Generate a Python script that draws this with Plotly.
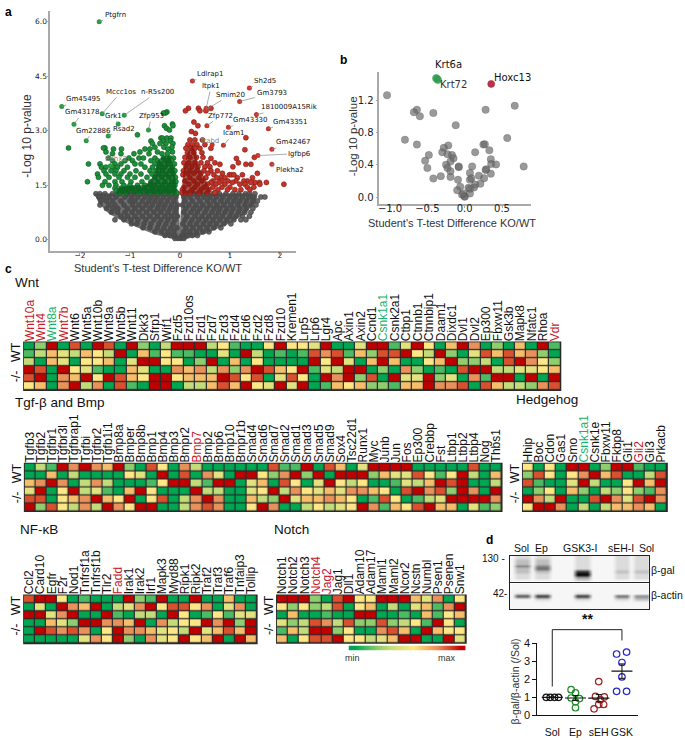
import plotly.graph_objects as go

W, H = 685, 740
FA = "Liberation Sans"
FD = "DejaVu Sans"

# ---------- panel a data ----------
genes_a = ["Ptgfrn","Ldlrap1","Sh2d5","Itpk1","Smim20","Gm3793","n-R5s200","Mccc1os","Gm45495","1810009A15Rik",
           "Gm43178","Grk1","Zfp953","Zfp772","Gm43330","Gm43351","Rsad2","Gm22886","Icam1","Trabd","Gm42467",
           "Igfbp6","Ephx2","Plekha2"]
genes_a_x = [-1.615,0.25,1.39,0.525,0.525,1.195,-1.115,-1.555,-2.365,1.53,-2.12,-1.235,-0.63,0.54,0.97,1.77,-1.435,
             -1.875,0.87,0.645,1.84,1.56,-1.39,1.84]
genes_a_y = [6.0,4.37,4.18,3.62,3.58,3.81,3.43,3.47,3.67,3.45,3.18,3.19,3.02,3.14,3.10,3.06,2.86,2.73,2.60,2.62,2.49,
             2.32,2.04,2.08]
grey_rows = [
 (1.27,[-1.68,-1.6,-1.5,-1.35,-1.2,-1.05,-.92,-.78,-.66,-.52,-.4,-.27,-.15,-.06,.06,.15,.28,.41,.53,.66,.79,.92,1.06,1.18,1.31,1.39,1.5]),
 (1.18,[-1.62,-1.54,-1.42,-1.28,-1.1,-.97,-.84,-.7,-.58,-.46,-.33,-.2,-.08,.08,.2,.35,.48,.6,.73,.86,1.0,1.12,1.25,1.38,1.48,1.62,1.7]),
 (1.07,[-1.58,-1.47,-1.35,-1.18,-1.0,-.9,-.75,-.62,-.5,-.38,-.25,-.12,.1,.25,.4,.55,.68,.82,.95,1.08,1.2,1.33,1.46,1.55]),
 (.96,[-1.6,-1.42,-1.3,-1.12,-.95,-.82,-.68,-.55,-.42,-.3,-.17,-.05,.05,.18,.32,.46,.6,.74,.88,1.02,1.16,1.3,1.42,1.52]),
 (.86,[-1.47,-1.34,-1.24,-1.05,-.9,-.75,-.6,-.45,-.33,-.2,-.08,.12,.27,.4,.54,.68,.8,.94,1.07,1.2,1.33,1.46]),
 (.76,[-1.37,-1.25,-1.1,-.96,-.82,-.67,-.52,-.38,-.24,-.1,.08,.22,.35,.5,.64,.77,.9,1.03,1.17,1.3,1.42]),
 (.65,[-1.18,-1.05,-.9,-.75,-.6,-.45,-.3,-.17,-.05,.14,.3,.44,.58,.72,.85,1.0,1.12,1.25,1.39]),
 (.55,[-1.3,-1.12,-.98,-.84,-.68,-.52,-.38,-.24,-.1,.1,.24,.38,.52,.66,.8,.94,1.08,1.22,1.32]),
 (.44,[-.97,-.86,-.72,-.58,-.42,-.28,-.14,.06,.2,.33,.47,.6,.73,.88,1.02]),
 (.33,[-.74,-.6,-.45,-.32,-.18,-.06,.12,.26,.4,.54,.68,.82]),
 (.22,[-.5,-.37,-.24,-.12,.08,.2,.33,.46,.58]),
 (.12,[-.3,-.2,-.1,.04,.14,.25,.35]),
 (.04,[-.1,-.04,.02,.08]),
]
grey_env_x = [-1.72,-1.62,-1.42,-1.2,-1.0,-.5,-.1,0,.1,.5,1.0,1.3,1.48,1.55,1.42,.04,.02,0,-.02,-.04,-1.72]
grey_env_y = [1.28,1.0,.72,.55,.42,.15,.01,-.02,.01,.16,.46,.72,1.0,1.2,1.28,1.28,.8,.35,.8,1.28,1.28]
green_rows = [
 (3.52,[-.26]),(3.49,[-.29,-.33]),(3.19,[-.15]),(3.14,[-.14,-.31]),(3.07,[-.27]),(3.02,[-.21]),
 (2.89,[-.85]),(2.8,[-.38,-.35,-.26,-.18]),(2.72,[-.58,-.33,-.19]),(2.65,[-.55,-.4,-.28,-.14]),
 (2.55,[-.5,-.32,-.16]),(2.5,[-1.17,-1.33,-.7,-.6,-.24]),(2.53,[-2.23,-1.5,-1.53]),(2.42,[-1.48,-.8,-.45,-.15]),
 (2.37,[-1.18,-1.35,-.92,-.62,-.36,-.25]),(2.25,[-1.43,-.82,-1.02,-.73,-.5,-.33,-.2,-.13]),(2.18,[-1.35,-1.1,-.95,-.58,-.45,-.28,-.17]),
 (2.09,[-1.83,-1.6,-1.3,-1.18,-.9,-.78,-.5,-.38,-.24,-.11]),(2.0,[-1.57,-1.48,-1.35,-1.25,-1.05,-.7,-.55,-.42,-.3,-.15]),
 (1.9,[-1.52,-1.38,-1.28,-1.12,-.88,-.6,-.48,-.35,-.2,-.1]),(1.81,[-1.65,-1.48,-1.3,-1.18,-1.0,-.78,-.56,-.42,-.28,-.13]),
 (1.72,[-1.63,-1.42,-1.22,-1.05,-.9,-.66,-.5,-.36,-.22,-.09]),(1.6,[-1.85,-1.5,-1.3,-1.16,-.98,-.76,-.58,-.44,-.3,-.16,-.08]),
 (1.5,[-1.55,-1.42,-1.28,-1.12,-1.0,-.85,-.7,-.6,-.5,-.36,-.22,-.1]),(1.42,[-1.3,-1.18,-1.06,-.95,-.82,-.7,-.56,-.42,-.28,-.14]),
 (1.35,[-1.27,-1.15,-1.02,-.9,-.78,-.66,-.52,-.38,-.24,-.1]),(1.3,[-1.2,-1.08,-.8,-.6,-.45,-.3,-.16,-.07]),
]
green_env_x = [-1.3,-1.22,-.95,-.68,-.56,-.5,-.44,-.3,-.2,-.12,-.08,-.06,-1.3]
green_env_y = [1.27,1.45,1.5,1.5,1.7,1.85,2.2,2.32,2.3,2.0,1.6,1.27,1.27]
red_rows = [
 (3.62,[.17,.37,.62]),(3.55,[.11,.4,.52]),(3.24,[.28]),(3.14,[.36]),(2.98,[.23]),(2.93,[.31]),(2.81,[1.32]),(2.75,[.2,.3,.45]),
 (2.62,[.16,.25,.34,.5]),(2.52,[.12,.22,.3,.4,.62]),(2.48,[1.3]),(2.4,[.15,.28,.44]),(2.27,[1.49,.1,.2,.33,.46]),
 (2.24,[1.13,.62]),(2.12,[1.17,.08,.18,.3,.42,.55,.7]),(2.08,[1.32,1.42,.8]),(2.01,[1.06,.12,.24,.36,.5,.6]),(1.9,[.75,.07,.2,.34,.48,.62]),
 (1.83,[1.55,.85,.16,.28,.42,.56]),(1.79,[.99,1.03,1.08,.68,.06,1.25]),(1.71,[.82,1.45,.74,.9,1.15,.2,.38,.52]),
 (1.62,[1.35,1.28,1.12,.96,.84,.66,.1,.28,.44]),(1.58,[1.73,1.59,1.5,1.42,.62,.78,1.05]),(1.53,[2.08,1.6,1.3,1.2,.9,.72,.55,.18,.35]),
 (1.45,[1.48,1.35,1.0,.84,.66,.48,.3,.08]),(1.38,[1.4,1.22,1.1,.95,.76,.58,.42,.24,.05]),(1.3,[.7,.55,.38,.2,.1,.04]),
]
red_env_x = [.04,.05,.08,.15,.25,.32,.38,.5,.6,.6,.04]
red_env_y = [1.27,1.6,2.0,2.4,2.6,2.4,2.0,1.7,1.4,1.27,1.27]

# ---------- panel b data ----------
b_x = [-1.04,-.64,-.68,-.60,-.42,-.12,-.80,-.64,.28,.67,.57,.79,-.22,-.28,-.48,-.30,-.23,-.17,-.15,-.19,-.53,-.50,-.25,-.23,
       -.19,-.19,-.32,-.42,-.08,-.08,-.09,-.06,-.10,-.035,0,0,-.02,.07,.05,.07,.07,.10,.14,.25,.27,.33,.35,.355,.42,.29,.28,
       .35,.26,.19,.21,.14,.125,.07,.09]
b_y = [1.26,1.08,1.05,1.0,1.04,.89,.71,.65,1.08,1.13,.73,.38,.64,.61,.52,.555,.53,.52,.48,.44,.45,.36,.40,.36,.32,.25,.26,.23,
       .38,.37,.215,.13,.085,.03,.01,.005,.045,.045,.115,.215,.30,.38,.555,.65,.655,.58,.47,.41,.405,.345,.335,.29,.235,.265,
       .165,.155,.12,.105,.235]
b_green_x, b_green_y = [-.38,-.36], [1.47,1.45]
b_red_x, b_red_y = [.355], [1.40]

# ---------- panel c data ----------
wnt_genes = ["Wnt10a","Wnt4","Wnt8a","Wnt7b","Wnt6","Wnt5a","Wnt10b","Wnt9a","Wnt5b","Wnt11","Dkk3","Sfrp1","Wif1","Fzd5","Fzd10os",
 "Fzd1","Fzd7","Fzd3","Fzd4","Fzd6","Fzd2","Fzd8","Fzd10","Kremen1","Lrp5","Lrp6","Lgr4","Apc","Axin1","Axin2","Ccnd1","Csnk1a1",
 "Csnk2a1","Ctbp1","Ctnnb1","Ctnnbip1","Daam1","Dixdc1","Dvl1","Dvl2","Ep300","Fbxw11","Gsk3b","Mapk8","Nfatc1","Rhoa","Vdr"]
wnt_vals = ["0290809809203" "999351005955490" "0499149506970206091",
            "1364365390615" "110040930101878" "1628895392048686720",
            "3064055604995" "502906050000959" "4069600569223089752",
            "9809541006400" "767372798659143" "9902072010899334456",
            "8907695986599" "566698580485097" "9280944924071990909",
            "5607937081099" "033686954949016" "5622166977808633278"]
tgf_genes = ["Tgfb3","Tgfb2","Tgfbr1","Tgfbr3l","Tgfbrap1","Tgfbi","Tgfbr2","Tgfb1i1","Bmp8a","Bmper","Bmp8b","Bmp1","Bmp4","Bmp3",
 "Bmpr2","Bmp7","Bmp2","Bmp6","Bmp10","Bmpr1b","Smad4","Smad6","Smad7","Smad2","Smad1","Smad3","Smad5","Smad9","Sox4","Tsc22d1",
 "Runx1","Myc","Junb","Jun","Fos","Ep300","Crebbp","Fst","Ltbp1","Ltbp2","Ltbp4","Nog","Thbs1"]
tgf_vals = ["03197976920850730000008119086" "04999900000800",
            "00603000054090807409952792909" "99264485159306",
            "67970373000159931990460850495" "35001436989003",
            "49059341069500093300459375464" "77650897829709",
            "88056796590580379700632946676" "50185013499997",
            "92853739759900378700597003534" "59716589660412"]
hh_genes = ["Hhip","Boc","Cdon","Gas1","Smo","Csnk1a1","Csnk1e","Fbxw11","Fkbp8","Gli1","Gli2","Gli3","Prkacb"]
hh_vals = ["5050990299100","2850579680038","8100493005969","0250620325217","9739008974897","5997030366760"]
nf_genes = ["Ccl2","Card10","Egfr","F2r","Nod1","Tnfrsf1a","Tnfrsf1b","Tlr2","Fadd","Irak1","Irak2","Irf1","Mapk3","Myd88","Ripk1",
 "Ripk2","Traf2","Traf3","Traf6","Tnfaip3","Tollip"]
nf_vals = ["899501000921900900600","040976903479588570470","994790091033095015144",
           "006429977690735597929","098787059776453946869","000004759207459569096"]
notch_genes = ["Notch1","Notch2","Notch3","Notch4","Jag2","Jag1","Dll1","Adam10","Adam17","Maml1","Maml2","Ncor2","Ncstn","Numbl",
 "Psen1","Psenen","Snw1"]
notch_vals = ["99920895599964705","52523805603046179","06001009900106156","42387382282351950","16399250078609655","60588955346990094"]
red_genes = ["Wnt10a","Wnt4","Wnt7b","Vdr","Bmp7","Gli2","Fadd","Notch4","Jag2"]
green_genes = ["Wnt8a","Csnk1a1"]
cbar_vals = [0,1,2,3,4,5,6,7,8,9]

# ---------- panel d data ----------
blot_top = ["0111011100000111000001110111","0222022200000111000001110111","0222022200000111000001110111",
            "0444044400000111000001110111","0222055500000111000001110111","0222022200000777000002220222",
            "0111011100000999000001110111","0111011100000333000001110111","0000000000000111000000000000"]
blot_bot = ["0000000000000000000000000000","0000000000000000000000000000","0000000000000000000000000000",
            "0111011100000111000000000000","0666077700000777000005550444","0000011100000111000001110222",
            "0000000000000000000000000000","0000000000000000000000000000","0000000000000000000000000000"]
d_cats = ["Sol","Ep","sEH","GSK"]
d_sol_x = [-.26,-.09,.1,.27]; d_sol_y = [1,1,1,1]
d_ep_x = [-.19,0,-.19,.17,0,0]; d_ep_y = [1.42,1.24,.96,.93,.75,.42]
d_seh_x = [0,-.14,.24,.07,.21,0,-.2]; d_seh_y = [1.87,1.05,1.02,.87,.6,.6,.36]
d_gsk_x = [-.23,.2,0,0,-.23,.2]; d_gsk_y = [3.4,3.51,2.93,2.13,1.33,1.33]
d_mean_x = [0,1,2,3]; d_mean = [1,.96,.95,2.45]; d_sem = [.02,.14,.2,.4]
d_bracket_x = [0,0,3,3]; d_bracket_y = [1.6,4.75,4.75,4.15]

# ---------- helpers ----------
fig = go.Figure()
layout = {}
shapes = []
ann = []

def axes(n, l, t, r, b, xkw, ykw):
    xk = "xaxis" if n == 1 else f"xaxis{n}"
    yk = "yaxis" if n == 1 else f"yaxis{n}"
    xr = "x" if n == 1 else f"x{n}"
    yr = "y" if n == 1 else f"y{n}"
    layout[xk] = dict(domain=[l/W, r/W], anchor=yr, showgrid=False, zeroline=False, **xkw)
    layout[yk] = dict(domain=[1-b/H, 1-t/H], anchor=xr, showgrid=False, zeroline=False, **ykw)
    return xr, yr

def txt(px, py, s, size=11, color="#111", anchor="left", angle=0, family=FA, **k):
    if anchor == "left":
        px -= 3
    ann.append(dict(xref="paper", yref="paper", x=px/W, y=1-py/H, text=s, showarrow=False, xanchor=anchor, yanchor="middle",
                    textangle=angle, font=dict(family=family, size=size, color=color), **k))

def flat(rows):
    xs, ys = [], []
    for y, row in rows:
        for x in row:
            xs.append(x); ys.append(y)
    return xs, ys

AXC = "#a9a9a9"
def sci(vals, labels, standoff):
    return dict(showline=True, linecolor=AXC, linewidth=1.5, ticks="outside", ticklen=2, tickcolor=AXC, tickvals=vals,
                ticktext=labels, tickangle=0, ticklabelstandoff=standoff)

# panel a
xa, ya = axes(1, 48.5, 5, 295, 249,
    dict(range=[-2.594, 2.317], tickfont=dict(family=FD, size=7.5, color="#222"), **sci([-2,-1,0,1,2], ["−2","−1","0","1","2"], -6)),
    dict(range=[-0.306, 6.3], tickfont=dict(family=FD, size=7.5, color="#222"), **sci([0,1.5,3,4.5,6], ["0.0","1.5","3.0","4.5","6.0"], -2)))
def env(x, y, c):
    fig.add_trace(go.Scatter(x=x, y=y, mode="lines", fill="toself", fillcolor=c, line=dict(width=0), xaxis=xa, yaxis=ya, hoverinfo="skip"))
def pts(x, y, c, lc, xr=xa, yr=ya, size=5, op=1):
    fig.add_trace(go.Scatter(x=x, y=y, mode="markers", xaxis=xr, yaxis=yr,
                             marker=dict(size=size, color=c, opacity=op, line=dict(color=lc, width=.6))))
pts(*flat(grey_rows), "#666666", "#3c3c3c")
env(grey_env_x, grey_env_y, "rgba(72,72,72,.78)")
pts(*flat(green_rows), "#1f8f3c", "#0a5a1c")
env(green_env_x, green_env_y, "rgba(8,95,28,.78)")
pts(*flat(red_rows), "#c3342a", "#7f1a10")
env(red_env_x, red_env_y, "rgba(135,22,12,.72)")
gc = ["#c6362b" if v > 0 else "#2a9a45" for v in genes_a_x]
fig.add_trace(go.Scatter(x=genes_a_x, y=genes_a_y, mode="markers", xaxis=xa, yaxis=ya, marker=dict(size=5, color=gc)))
off_x = [16,18,16,5,24,32,33,19,22,33,9,-5,3,14,22,22,16,7,10,-3,22,42,6,18]
off_y = [-7,-7,-7,-22,-15,-8,-23,-22,-7,-7,-12,-8,-14,-10,-7,-7,-7,-10,-12,-4,-7,-2,-7,6]
for g, x, y, ox, oy in zip(genes_a, genes_a_x, genes_a_y, off_x, off_y):
    ann.append(dict(xref=xa, yref=ya, x=x, y=y, ax=ox, ay=oy, text=g, showarrow=True, arrowhead=0, arrowwidth=.7, arrowcolor="#888",
                    font=dict(family=FD, size=7, color="#888" if g in ("Trabd","Ephx2") else "#111")))
txt(156.7, 266, "Student's T-test Difference KO/WT", 11, "#333", "center")
txt(25, 132, "-Log 10 p-value", 12, "#333", "center", -90)

# panel b
xb, yb = axes(2, 379, 66.7, 531.7, 201.3,
    dict(range=[-1.143, .893], tickfont=dict(family=FD, size=10, color="#222"), **sci([-1,-.5,0,.5], ["−1.0","−0.5","0.0","0.5"], -8)),
    dict(range=[-.085, 1.552], tickfont=dict(family=FD, size=10, color="#222"), **sci([0,.4,.8,1.2], ["0.0","0.4","0.8","1.2"], 0)))
pts(b_x, b_y, "rgba(105,105,105,.68)", "rgba(60,60,60,.3)", xb, yb, 7.5, 1)
pts(b_green_x, b_green_y, "#2f9e4f", "#2f9e4f", xb, yb, 7.5, .9)
pts(b_red_x, b_red_y, "#b5334d", "#b5334d", xb, yb, 7, 1)
txt(448, 59.5, "Krt6a", 10, "#111", "center", family=FD)
txt(453, 79.5, "Krt72", 10, "#333", "center", family=FD)
txt(513, 72.5, "Hoxc13", 10, "#111", "center", family=FD)
txt(451.7, 221, "Student's T-test Difference KO/WT", 11, "#333", "center")
txt(352, 132, "-Log 10 p-value", 11.5, "#333", "center", -90)

# panel c
SCALE = [[0,"#00a651"],[1/9,"#4cbb63"],[2/9,"#8fce6e"],[3/9,"#c3dc7a"],[4/9,"#e2e27f"],[5/9,"#ffe785"],[6/9,"#f6bd6a"],
         [7/9,"#e9915a"],[8/9,"#d9502f"],[1,"#c00000"]]
def lab(g):
    if g in red_genes: return f'<span style="color:#c8202a">{g}</span>'
    if g in green_genes: return f'<span style="color:#19b36b">{g}</span>'
    return g
def heat(n, l, t, r, b, genes, vals):
    assert all(len(row) == len(genes) for row in vals), (genes[0], [len(r) for r in vals], len(genes))
    z = [[int(c) for c in row] for row in vals]
    idx = list(range(len(genes)))
    xr, yr = axes(n, l, t, r, b,
        dict(side="top", range=[-.5, len(genes)-.5], tickvals=idx, ticktext=[lab(g) for g in genes], tickangle=-90, ticklen=0,
             tickfont=dict(family=FA, size=12, color="#111"), showline=False),
        dict(range=[5.5, -.5], tickvals=[1, 4], ticktext=["WT", "-/-"], tickangle=-90, ticklen=0,
             tickfont=dict(family=FA, size=12.5, color="#111"), showline=False))
    shapes.append(dict(type="rect", xref=xr+" domain", yref=yr+" domain", x0=0, x1=1, y0=0, y1=1, layer="below",
                       fillcolor="#2a2a2a", line=dict(color="#2a2a2a", width=1.5)))
    fig.add_trace(go.Heatmap(z=z, x=idx, y=list(range(6)), xaxis=xr, yaxis=yr, colorscale=SCALE, zmin=0, zmax=9, showscale=False,
                             xgap=1.2, ygap=1.2, hoverinfo="skip"))
heat(3, 22, 341.7, 561, 390.7, wnt_genes, wnt_vals)
heat(4, 22.7, 465, 502, 513.5, tgf_genes, tgf_vals)
heat(5, 523, 465, 668, 513.5, hh_genes, hh_vals)
heat(6, 22, 599, 256, 648, nf_genes, nf_vals)
heat(7, 276, 599, 466, 647.5, notch_genes, notch_vals)
xc, yc = axes(8, 348, 650, 466, 655, dict(visible=False), dict(visible=False))
fig.add_trace(go.Heatmap(z=[cbar_vals], xaxis=xc, yaxis=yc, colorscale=SCALE, zmin=0, zmax=9, showscale=False, zsmooth="best", hoverinfo="skip"))
txt(352, 663, "min", 9, "#333", "center")
txt(447, 663, "max", 9, "#333", "center")
txt(14, 281, "Wnt", 13.5)
txt(14, 403, "Tgf-β and Bmp", 13.5)
txt(517, 400, "Hedgehog", 13.5)
txt(19, 532, "NF-κB", 13.5)
txt(274, 532, "Notch", 13.5)

# panel d
GREY = [[0,"#f6f6f6"],[1,"#000000"]]
def blot(n, t, b, rows):
    z = [[int(c) for c in r] for r in rows]
    xr, yr = axes(n, 510, t, 650, b,
        dict(showticklabels=False, ticks="", showline=True, mirror=True, linecolor="#222", linewidth=1, range=[-.5,27.5]),
        dict(showticklabels=False, ticks="", showline=True, mirror=True, linecolor="#222", linewidth=1, range=[8.5,-.5]))
    fig.add_trace(go.Heatmap(z=z, xaxis=xr, yaxis=yr, colorscale=GREY, zmin=0, zmax=9, showscale=False, zsmooth="best", hoverinfo="skip"))
blot(9, 559, 585, blot_top)
blot(10, 587, 613, blot_bot)
for x, s in [(522,"Sol"),(542,"Ep"),(581,"GSK3-I"),(622,"sEH-I"),(647,"Sol")]:
    txt(x, 551, s, 10.5, "#111", "center")
txt(507, 562, "130 -", 10, "#111", "right")
txt(509, 597, "42-", 10, "#111", "right")
txt(653, 573, "β-gal", 10.5)
txt(653, 599, "β-actin", 10.5)
txt(588, 623, "<b>**</b>", 14, "#111", "center")

xd, yd = axes(11, 537.7, 647.7, 639, 721,
    dict(range=[-.643, 3.70], tickvals=[0,1,2,3], ticktext=d_cats, ticks="outside", ticklen=7, tickcolor="rgba(0,0,0,0)", showline=True,
         linecolor="#111", linewidth=1, tickangle=0, tickfont=dict(family=FA, size=10.5, color="#111")),
    dict(range=[0, 4], tickvals=[0,1,2,3,4], ticks="outside", ticklen=4, tickcolor="#111", showline=True, linecolor="#111", linewidth=1,
         tickfont=dict(family=FA, size=11, color="#111")))
xe, ye = axes(12, 537.7, 630, 639, 721, dict(range=[-.643, 3.70], visible=False), dict(range=[0, 4.965], visible=False))
fig.add_trace(go.Scatter(x=d_bracket_x, y=d_bracket_y, mode="lines", xaxis=xe, yaxis=ye, line=dict(color="#222", width=1)))
for cat, xs, ys, c in [(0,d_sol_x,d_sol_y,"#111"),(1,d_ep_x,d_ep_y,"#1f8a2a"),(2,d_seh_x,d_seh_y,"#9c1f1f"),(3,d_gsk_x,d_gsk_y,"#2323c8")]:
    fig.add_trace(go.Scatter(x=[cat+v for v in xs], y=ys, mode="markers", xaxis=xd, yaxis=yd, cliponaxis=False,
                             marker=dict(size=6.5, color="rgba(0,0,0,0)", line=dict(color=c, width=1.2))))
fig.add_trace(go.Scatter(x=d_mean_x, y=d_mean, mode="markers", xaxis=xd, yaxis=yd,
                         marker=dict(symbol="line-ew", size=15, line=dict(color="#111", width=1.2)),
                         error_y=dict(type="data", array=d_sem, color="#111", width=3, thickness=1)))
txt(515, 687, "β-gal/β-actin (/Sol)", 10.5, "#333", "center", -90)

# panel letters
for x, y, s in [(4,6,"a"),(340,55,"b"),(4,267,"c"),(487,543,"d")]:
    txt(x, y, f"<b>{s}</b>", 12, "#000")

fig.update_layout(width=W, height=H, margin=dict(l=0,r=0,t=0,b=0), paper_bgcolor="white", plot_bgcolor="rgba(0,0,0,0)",
                  showlegend=False, shapes=shapes, annotations=ann, **layout)
fig.write_html("out.html", config=dict(displayModeBar=False), post_script="document.body.style.margin='0';")
